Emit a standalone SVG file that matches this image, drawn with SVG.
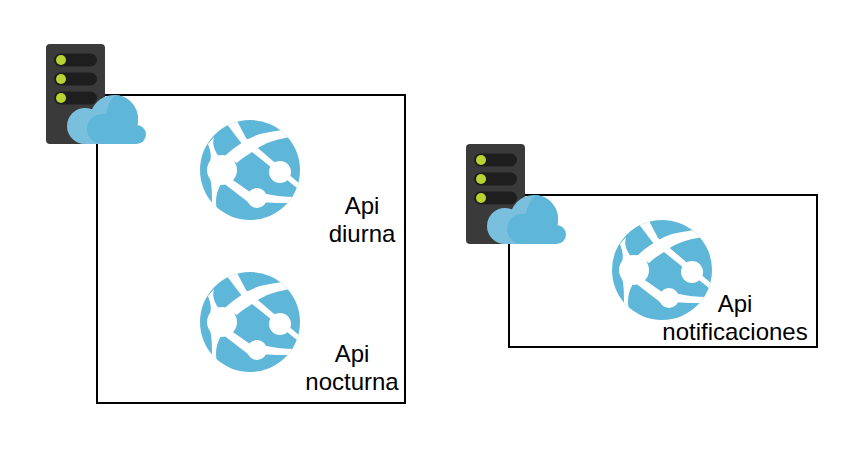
<svg xmlns="http://www.w3.org/2000/svg" width="864" height="456" viewBox="0 0 864 456">
<style>
.box{fill:#fff;stroke:#000;stroke-width:2}
.lbl{font-family:"Liberation Sans",Arial,sans-serif;font-size:24px;fill:#000;text-anchor:middle}
.w{fill:#fff}
.slot{fill:#1e1e1e}
.dot{fill:#b8d432}
.cl{fill:#7ac0de}
.cd{fill:#5eb6d9}
</style>
<defs>
<clipPath id="gc"><circle cx="50" cy="50" r="50"/></clipPath>
<g id="globe">
<circle cx="50" cy="50" r="50" class="cd"/>
<g clip-path="url(#gc)">
<path class="w" d="M25 36C35 26 50 17 60 14C68 12 75 11 84 10L92 17C75 19 62 24 52 32C46 36 42 38 37 43Z"/>
<path class="w" d="M26 3L36 -1L46 18L100 64L97 68L42 24Z"/>
<path class="w" d="M8 24L14 17C12 25 14 30 20 38L10 42C12 35 10 30 8 24Z"/>
<path class="w" d="M10 58C12 65 12 75 12 83L17 90C15 80 16 72 22 62Z"/>
<path class="w" d="M30 58L50 72L67 74C75 76 85 77 95 77L93 83C80 83 72 83 60 82L48 82L22 62Z"/>
<circle cx="22" cy="50" r="15" class="w"/>
<circle cx="80" cy="52" r="11" class="w"/>
<circle cx="57" cy="78" r="10" class="w"/>
</g>
</g>
<g id="server">
<rect x="0" y="0" width="59" height="100" rx="4" fill="#3a3a3a"/>
<rect x="8" y="9.500" width="43" height="13" rx="6.500" class="slot"/>
<rect x="8" y="28.500" width="43" height="13" rx="6.500" class="slot"/>
<rect x="8" y="47.500" width="43" height="13" rx="6.500" class="slot"/>
<circle cx="15" cy="16" r="5" class="dot"/>
<circle cx="15" cy="35" r="5" class="dot"/>
<circle cx="15" cy="54" r="5" class="dot"/>
<circle cx="39" cy="82" r="18" class="cl"/>
<circle cx="68" cy="75" r="24" class="cl"/>
<rect x="39" y="80" width="40" height="20" class="cl"/>
<path class="cd" d="M70 51A24 24 0 0 1 92 75L90 100L56 100L56 70C58 70 59 70 60 70.500C61 62 65 55 70 51Z"/>
<circle cx="56" cy="85" r="15" class="cd"/>
<circle cx="90.500" cy="90.500" r="9.500" class="cd"/>
</g>
</defs>
<g id="connectors"></g>
<g id="box-left"><rect class="box" x="97" y="95" width="308" height="308"/></g>
<g id="box-right"><rect class="box" x="509" y="195" width="308" height="152"/></g>
<g id="server-left"><use href="#server" x="46" y="44"/></g>
<g id="server-right"><use href="#server" x="466" y="144"/></g>
<g id="api-diurna"><use href="#globe" x="200" y="120"/><text class="lbl" x="362" y="214">Api</text><text class="lbl" x="362" y="242">diurna</text></g>
<g id="api-nocturna"><use href="#globe" x="200" y="272"/><text class="lbl" x="352" y="362">Api</text><text class="lbl" x="352" y="390">nocturna</text></g>
<g id="api-notificaciones"><use href="#globe" x="612" y="220"/><text class="lbl" x="735" y="312">Api</text><text class="lbl" x="735" y="340">notificaciones</text></g>
</svg>
